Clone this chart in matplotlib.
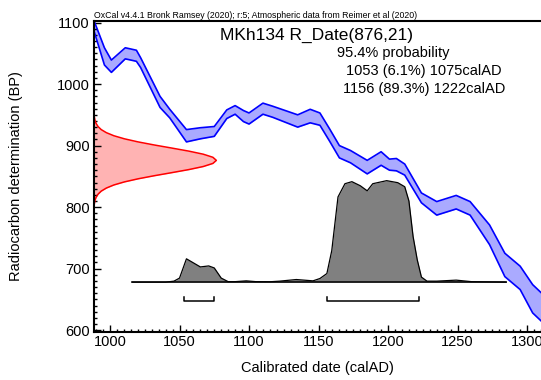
import numpy as np
import matplotlib.pyplot as plt
from matplotlib.ticker import MultipleLocator

plt.rcParams['font.family'] = ['Liberation Sans', 'DejaVu Sans']

# Kalibreringskurva (IntCal20): år, BP-mitt och 1-sigma
cal_year = [988, 996, 1001, 1011, 1019, 1022, 1036, 1043, 1055, 1065, 1075, 1084,
            1090, 1096, 1100, 1110, 1117, 1135, 1144, 1151, 1158, 1165, 1173, 1185,
            1195, 1201, 1206, 1212, 1224, 1235, 1249, 1259, 1273, 1284, 1295, 1304, 1311]
cal_bp = [1098, 1045, 1029, 1050, 1046, 1035, 971, 952, 916, 920, 923, 951,
          958, 948, 944, 960, 955, 940, 948, 943, 917, 890, 882, 865,
          879, 869, 869, 861, 815, 798, 808, 798, 755, 706, 685, 651, 636]
cal_err = [8, 14, 10, 9, 9, 8, 9, 7, 10, 9, 8, 7,
           7, 9, 9, 9, 9, 10, 11, 10, 10, 10, 10, 11,
           11, 9, 10, 9, 8, 11, 11, 11, 16, 19, 19, 23, 23]

# Mätningen R_Date(876,21), avläst höjd i år från vänsteraxeln
date_bp = [806, 811, 816, 821, 826, 831, 836, 841, 846, 851, 856, 861, 866, 871,
           876, 881, 886, 891, 896, 901, 906, 911, 916, 921, 926, 931, 936, 941, 946]
date_h = [0.3, 0.7, 1.5, 2.9, 5.2, 8.9, 14.3, 21.9, 31.7, 43.3, 55.9, 68.2, 78.6, 85.5,
          88.0, 85.5, 78.6, 68.2, 55.9, 43.3, 31.7, 21.9, 14.3, 8.9, 5.2, 2.9, 1.5, 0.7, 0.3]

# Kalibrerad fördelning (relativ sannolikhet)
post_year = [1016, 1040, 1046, 1050, 1055, 1060, 1065, 1071, 1075, 1080, 1085, 1090,
             1098, 1105, 1115, 1122, 1134, 1146, 1151, 1156, 1159.5, 1164, 1169, 1174,
             1180, 1185, 1189, 1199, 1207, 1212, 1215, 1218, 1221, 1224, 1228, 1235,
             1249, 1260, 1285]
post_p = [0, 0, 0.01, 0.04, 0.23, 0.19, 0.15, 0.16, 0.14, 0.04, 0.005, 0.005,
          0.013, 0.005, 0.004, 0.01, 0.026, 0.013, 0.036, 0.085, 0.31, 0.84, 0.97, 0.99,
          0.95, 0.90, 0.97, 1.0, 0.98, 0.94, 0.80, 0.45, 0.22, 0.05, 0.01, 0.01,
          0.02, 0.005, 0]
post_base = 678
post_scale = 165

# 95.4% intervall
ranges = [(1053, 1075), (1156, 1222)]
range_text = ['1053 (6.1%) 1075calAD', '1156 (89.3%) 1222calAD']

fig = plt.figure(figsize=(5.41, 3.8), dpi=100)
ax = fig.add_axes([94 / 541, 1 - 332 / 380, 1 - 94 / 541, (332 - 20.7) / 380])
ax.set_xlim(988.5, 1310)
ax.set_ylim(597, 1103)

cy = np.array(cal_year)
cb = np.array(cal_bp)
ce = np.array(cal_err)
ax.fill_between(cy, cb - ce, cb + ce, color='#aaaaff', lw=0)
ax.plot(cy, cb + ce, color='#0000ff', lw=1.2)
ax.plot(cy, cb - ce, color='#0000ff', lw=1.2)

x0 = 988.5
ax.fill_betweenx(date_bp, x0, x0 + np.array(date_h), color='#ffb3b3', lw=0)
ax.plot(x0 + np.array(date_h), date_bp, color='#ff0000', lw=1.1)

py = np.array(post_year)
pp = post_base + post_scale * np.array(post_p)
ax.fill_between(py, post_base, pp, color='#808080', lw=0)
ax.plot(py, pp, color='black', lw=0.9)
ax.plot([post_year[0], post_year[-1]], [post_base, post_base], color='black', lw=1.1)

for a, b in ranges:
    ax.plot([a, a, b, b], [654, 647, 647, 654], color='black', lw=1.1)

for side in ['left', 'bottom', 'top']:
    ax.spines[side].set_linewidth(1.5)
ax.spines['right'].set_visible(False)

ax.xaxis.set_major_locator(MultipleLocator(50))
ax.xaxis.set_minor_locator(MultipleLocator(5))
ax.yaxis.set_major_locator(MultipleLocator(100))
ax.yaxis.set_minor_locator(MultipleLocator(10))
ax.tick_params(which='both', direction='in', top=False, right=False, labelsize=10.5)
ax.tick_params(which='major', length=5, width=1)
ax.tick_params(which='minor', length=2.5, width=1)
ax.tick_params(axis='y', pad=3)
ax.tick_params(axis='x', pad=2.5)

fig.text(317 / 541, 1 - 368 / 380, 'Calibrated date (calAD)', ha='center', va='center', fontsize=10.5)
fig.text(16 / 541, 1 - 176 / 380, 'Radiocarbon determination (BP)', ha='center', va='center',
         rotation=90, fontsize=10.5)

fig.text(94 / 541, 1 - 15.5 / 380,
         'OxCal v4.4.1 Bronk Ramsey (2020); r:5; Atmospheric data from Reimer et al (2020)',
         ha='left', va='center', fontsize=6.3)
fig.text(317 / 541, 1 - 35 / 380, 'MKh134 R_Date(876,21)', ha='center', va='center', fontsize=12.5)
fig.text(337 / 541, 1 - 52.5 / 380, '95.4% probability', ha='left', va='center', fontsize=10.5)
fig.text(346 / 541, 1 - 70.5 / 380, range_text[0], ha='left', va='center', fontsize=10.5)
fig.text(343 / 541, 1 - 89.5 / 380, range_text[1], ha='left', va='center', fontsize=10.5)

fig.savefig('out.png', dpi=100)
